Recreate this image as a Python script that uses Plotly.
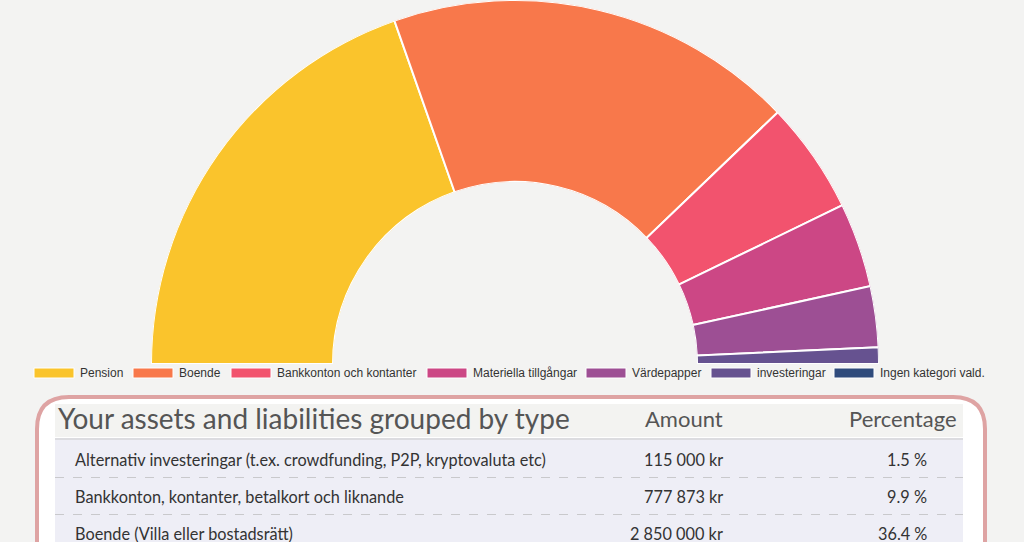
import plotly.graph_objects as go

# ---------------- data ----------------
legend_labels = ["Pension", "Boende", "Bankkonton och kontanter", "Materiella tillgångar",
                 "Värdepapper", "investeringar", "Ingen kategori vald."]
values = [3070000, 2850000, 777873, 587000, 422000, 115000, 0]
colors = ["#fac42c", "#f8784b", "#f2536e", "#cc4785", "#9d4f94", "#665290", "#2f4b7c"]

table_title = "Your assets and liabilities grouped by type"
table_headers = ["Amount", "Percentage"]
table_rows = ["Alternativ investeringar (t.ex. crowdfunding, P2P, kryptovaluta etc)",
              "Bankkonton, kontanter, betalkort och liknande",
              "Boende (Villa eller bostadsrätt)"]
table_amounts = ["115 000 kr", "777 873 kr", "2 850 000 kr"]
table_percent = ["1.5 %", "9.9 %", "36.4 %"]

# ---------------- layout helpers ----------------
W, H = 1024, 542
BG = "#f3f3f2"


def px(x):
    return x / W


def py(y):
    return 1 - y / H


total = sum(values)
widths = [v / total * 180 for v in values]
thetas = []
acc = 0
for w in widths:
    thetas.append(acc + w / 2)
    acc += w

fig = go.Figure()
fig.add_trace(go.Barpolar(
    r=[1] * len(values), theta=thetas, width=widths,
    marker=dict(color=colors, line=dict(color="white", width=2)),
    text=legend_labels, hoverinfo="text", showlegend=False,
))

shapes = []
annotations = []

# legend (manual, wide swatches)
legend_x = [34, 133, 231, 427, 586, 711, 834]
for lx, lab, col in zip(legend_x, legend_labels, colors):
    shapes.append(dict(type="rect", xref="paper", yref="paper",
                       x0=px(lx), x1=px(lx + 40), y0=py(378), y1=py(368),
                       fillcolor=col, line=dict(color="white", width=1)))
    annotations.append(dict(x=px(lx + 44), y=py(373), xref="paper", yref="paper",
                            text=lab, showarrow=False, xanchor="left", yanchor="middle",
                            font=dict(family="Liberation Sans, Arial", size=12, color="#333")))

# table box (rounded)
x0, x1, y0, y1, rad = 37, 985, 397, 600, 32
path = (f"M {px(x0)},{py(y1)} L {px(x0)},{py(y0 + rad)} Q {px(x0)},{py(y0)} {px(x0 + rad)},{py(y0)} "
        f"L {px(x1 - rad)},{py(y0)} Q {px(x1)},{py(y0)} {px(x1)},{py(y0 + rad)} L {px(x1)},{py(y1)} Z")
shapes.append(dict(type="path", path=path, xref="paper", yref="paper",
                   fillcolor="white", line=dict(color="#dea3a3", width=4), layer="above"))

# header band and rows background
shapes.append(dict(type="rect", xref="paper", yref="paper", x0=px(55), x1=px(963),
                   y0=py(437), y1=py(404), fillcolor="#f3f3f1", line=dict(width=0), layer="above"))
shapes.append(dict(type="rect", xref="paper", yref="paper", x0=px(55), x1=px(963),
                   y0=py(560), y1=py(440), fillcolor="#eeeef6", line=dict(width=0), layer="above"))
shapes.append(dict(type="line", xref="paper", yref="paper", x0=px(55), x1=px(963),
                   y0=py(439), y1=py(439), line=dict(color="#dcdce0", width=2), layer="above"))

row_h = 37
row_y0 = 459
for i in range(len(table_rows) - 1):
    ly = row_y0 + row_h * i + 18.5
    shapes.append(dict(type="line", xref="paper", yref="paper", x0=px(55), x1=px(963),
                       y0=py(ly), y1=py(ly), line=dict(color="#c9c9cc", width=1, dash="dash"),
                       layer="above"))

title_font = dict(family="Lato, Open Sans", size=28, color="#555")
annotations.append(dict(x=px(56), y=py(418), xref="paper", yref="paper", text=table_title,
                        showarrow=False, xanchor="left", yanchor="middle", font=title_font))
head_font = dict(family="Lato, Open Sans", size=22, color="#555")
annotations.append(dict(x=px(725), y=py(418), xref="paper", yref="paper", text=table_headers[0],
                        showarrow=False, xanchor="right", yanchor="middle", font=head_font))
annotations.append(dict(x=px(959), y=py(418), xref="paper", yref="paper", text=table_headers[1],
                        showarrow=False, xanchor="right", yanchor="middle", font=head_font))

row_font = dict(family="Lato, Open Sans", size=16.3, color="#333")
for i, (lab, amt, pct) in enumerate(zip(table_rows, table_amounts, table_percent)):
    yy = row_y0 + row_h * i
    annotations.append(dict(x=px(73), y=py(yy), xref="paper", yref="paper", text=lab,
                            showarrow=False, xanchor="left", yanchor="middle", font=row_font))
    annotations.append(dict(x=px(725), y=py(yy), xref="paper", yref="paper", text=amt,
                            showarrow=False, xanchor="right", yanchor="middle", font=row_font))
    annotations.append(dict(x=px(929), y=py(yy), xref="paper", yref="paper", text=pct,
                            showarrow=False, xanchor="right", yanchor="middle", font=row_font))

fig.update_layout(
    width=W, height=H,
    margin=dict(l=0, r=0, t=0, b=0),
    paper_bgcolor=BG, plot_bgcolor=BG,
    polar=dict(
        domain=dict(x=[px(149), px(881)], y=[py(364), 1]),
        sector=[0, 180], hole=0.5, bgcolor=BG,
        radialaxis=dict(range=[0, 1], visible=False, showgrid=False),
        angularaxis=dict(rotation=180, direction="clockwise", visible=False, showgrid=False,
                         type="linear"),
        bargap=0,
    ),
    shapes=shapes, annotations=annotations,
)

fig.write_html("out.html", config={"displayModeBar": False},
               post_script="document.body.style.margin='0';document.body.style.overflow='hidden';")
